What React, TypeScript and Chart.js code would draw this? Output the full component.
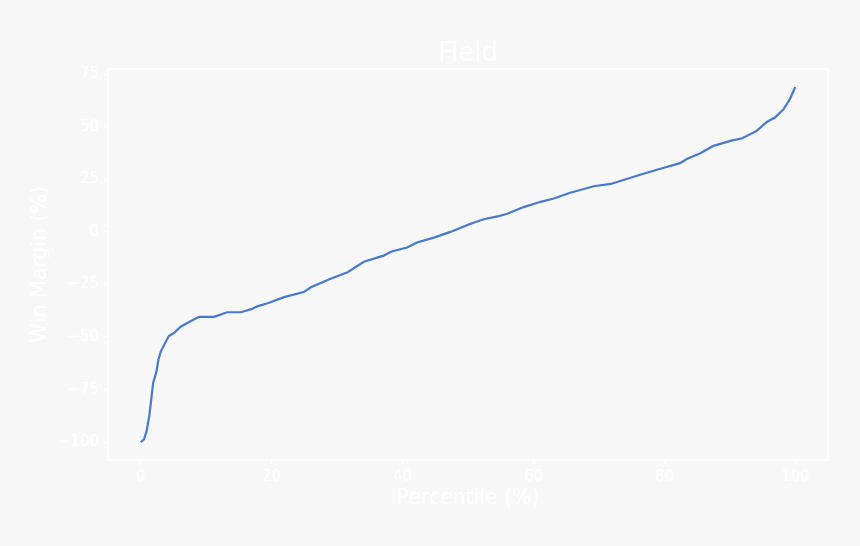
import React, { useEffect, useRef } from "react";
import { Chart, registerables } from "chart.js";

Chart.register(...registerables);

const percentiles = [
  0, 0.5, 0.9, 1.3, 1.6, 1.9, 2.4, 2.7, 3.05, 3.7, 4.3, 5.1, 6.1, 7.4, 8.9,
  11.2, 13.2, 15.3, 17.0, 17.8, 19.5, 21.9, 24.9, 26, 29, 31.6, 34.1, 37.1,
  38.2, 40.7, 42.2, 44.8, 47.3, 50.4, 52.4, 54.7, 56, 58.5, 61.1, 63.1, 65.5,
  69.2, 71.8, 76.3, 79.4, 82.4, 83.5, 85.5, 87.5, 90.1, 91.9, 94.1, 95.7,
  96.9, 98.2, 99.2, 100,
];
const winMargins = [
  -100, -98.6, -94.7, -87.6, -79.7, -71.8, -66.4, -60.8, -57, -53, -49.5, -48,
  -45.1, -42.8, -40.4, -40.4, -38.2, -38.2, -36.6, -35.4, -33.8, -31, -28.6,
  -26.3, -22.3, -19.2, -14.2, -11.3, -9.4, -7.4, -5, -2.7, 0, 3.9, 6, 7.5, 8.6,
  11.8, 14.3, 15.9, 18.5, 21.7, 22.8, 27.2, 30, 32.7, 34.8, 37.4, 40.9, 43.3,
  44.5, 48, 52.4, 54.4, 58.3, 63.3, 68.9,
];
const xTicks = [0, 20, 40, 60, 80, 100];
const yTicks = [-100, -75, -50, -25, 0, 25, 50, 75];
const chartTitle = "Field";
const xLabel = "Percentile (%)";
const yLabel = "Win Margin (%)";

const BG = "#f7f7f7";
const LINE = "#4878cf";
const FG = "#ffffff";
const FONT = "'DejaVu Sans', sans-serif";

export default function App() {
  const ref = useRef<HTMLCanvasElement>(null);

  useEffect(() => {
    const canvas = ref.current;
    if (!canvas) return;

    const framePlugin = {
      id: "frame",
      afterLayout(chart: any) {
        const ca = chart.chartArea;
        const tb = chart.titleBlock;
        if (tb) {
          tb.left = ca.left;
          tb.right = ca.right;
          tb.width = ca.right - ca.left;
        }
      },
      beforeDraw(chart: any) {
        const ctx = chart.ctx;
        ctx.save();
        ctx.fillStyle = BG;
        ctx.fillRect(0, 0, chart.width, chart.height);
        ctx.restore();
      },
      afterDraw(chart: any) {
        const { left, top, right, bottom } = chart.chartArea;
        const ctx = chart.ctx;
        ctx.save();
        ctx.strokeStyle = FG;
        ctx.lineWidth = 1.2;
        ctx.strokeRect(left, top, right - left, bottom - top);
        ctx.restore();
      },
    };

    const chart = new Chart(canvas, {
      type: "line",
      data: {
        datasets: [
          {
            data: percentiles.map((p, i) => ({ x: p, y: winMargins[i] })),
            borderColor: LINE,
            backgroundColor: LINE,
            borderWidth: 2.2,
            pointRadius: 0,
            tension: 0,
            fill: false,
          },
        ],
      },
      options: {
        responsive: false,
        animation: false,
        layout: { padding: { left: 0, right: 32, top: 0, bottom: 35.2 } },
        plugins: {
          legend: { display: false },
          tooltip: { enabled: false },
          title: {
            display: true,
            text: chartTitle,
            color: FG,
            font: { family: FONT, size: 26, weight: "normal" },
            padding: { top: 39, bottom: -1.2 },
          },
        },
        scales: {
          x: {
            type: "linear",
            min: -5,
            max: 105,
            afterBuildTicks: (s: any) => {
              s.ticks = xTicks.map((v) => ({ value: v }));
            },
            afterFit: (s: any) => {
              s.height = 50.8;
            },
            ticks: {
              color: FG,
              font: { family: FONT, size: 15 },
              padding: 4,
              maxRotation: 0,
              autoSkip: false,
            },
            grid: {
              display: true,
              drawOnChartArea: false,
              drawTicks: true,
              tickLength: 4,
              color: FG,
              lineWidth: 1.2,
            },
            border: { display: false },
            title: {
              display: true,
              text: xLabel,
              color: FG,
              font: { family: FONT, size: 20.5 },
              padding: { top: 0, bottom: 0 },
            },
          },
          y: {
            type: "linear",
            min: -108.45,
            max: 77.45,
            afterBuildTicks: (s: any) => {
              s.ticks = yTicks.map((v) => ({ value: v }));
            },
            afterFit: (s: any) => {
              s.width = 108;
            },
            ticks: {
              color: FG,
              font: { family: FONT, size: 15 },
              padding: 5,
              autoSkip: false,
              callback: (v: any) => String(v).replace("-", "\u2212"),
            },
            grid: {
              display: true,
              drawOnChartArea: false,
              drawTicks: true,
              tickLength: 4,
              color: FG,
              lineWidth: 1.2,
            },
            border: { display: false },
            title: {
              display: true,
              text: yLabel,
              color: FG,
              font: { family: FONT, size: 20.5 },
              padding: { top: 28.1, bottom: 0 },
            },
          },
        },
      },
      plugins: [framePlugin],
    });

    return () => chart.destroy();
  }, []);

  return (
    <div
      style={{
        position: "absolute",
        left: 0,
        top: 0,
        width: 860,
        height: 546,
        background: BG,
      }}
    >
      <canvas ref={ref} width={860} height={546} />
    </div>
  );
}
